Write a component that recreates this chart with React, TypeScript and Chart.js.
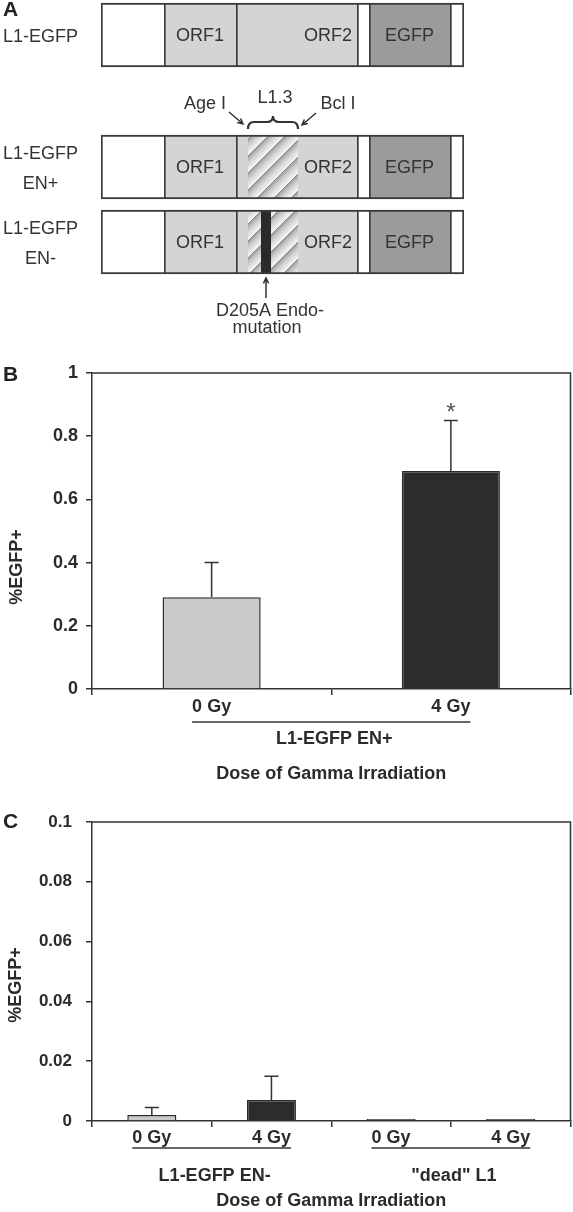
import React, { useEffect, useRef } from 'react';
import { Chart, registerables } from 'chart.js';

Chart.register(...registerables);

const FONT = "'Liberation Sans', Arial, Helvetica, sans-serif";
const INK = '#2b2b2b';
const EDGE = '#3a3a3a';
const ORF_FILL = '#d4d4d4';
const EGFP_FILL = '#9b9b9b';
const MUT_FILL = '#2a2a2a';

// ---------------- Panel A: construct schematics (segment lengths, arbitrary units) ----------------
const topConstructLabels = [['L1-EGFP']];
const topSegmentNames = ["5'", 'ORF1', 'ORF2', 'gap', 'EGFP', "3'"];
const topSegmentKinds = ['white', 'orf', 'orf', 'white', 'egfp', 'white'];
const topSegmentLengths = [63, 72, 121, 12, 81, 14];
const topSegmentText = ['', 'ORF1', 'ORF2', '', 'EGFP', ''];

const enConstructLabels = [['L1-EGFP', 'EN+'], ['L1-EGFP', 'EN-']];
const enSegmentNames = ["5'", 'ORF1', "ORF2 5'", 'L1.3 a', 'D205A', 'L1.3 b', 'ORF2', 'gap', 'EGFP', "3'"];
const enSegmentKinds = ['white', 'orf', 'orf', 'hatch', 'mutation', 'hatch', 'orf', 'white', 'egfp', 'white'];
const enPlusLengths = [63, 72, 12, 50, null, null, 59, 12, 81, 14];
const enMinusLengths = [63, 72, 12, 13, 10, 27, 59, 12, 81, 14];
const enSegmentText = ['', 'ORF1', '', '', '', '', 'ORF2', '', 'EGFP', ''];

// ---------------- Panel B ----------------
const doseLabelsB = ['0 Gy', '4 Gy'];
const egfpValuesB = [0.29, 0.69];
const egfpErrorsB = [0.11, 0.16];
const barColorsB = ['#c9c9c9', '#2c2c2c'];
const groupLabelsB = ['L1-EGFP EN+'];
const groupStartB = [0];
const groupEndB = [1];
const yTicksB = { min: 0, max: 1, step: 0.2 };

// ---------------- Panel C ----------------
const doseLabelsC = ['0 Gy', '4 Gy', '0 Gy', '4 Gy'];
const egfpValuesC = [0.002, 0.007, 0.0007, 0.0007];
const egfpErrorsC = [0.0025, 0.008, 0, 0];
const barColorsC = ['#c9c9c9', '#2c2c2c', '#3a3a3a', '#3a3a3a'];
const groupLabelsC = ['L1-EGFP EN-', '"dead" L1'];
const groupStartC = [0, 2];
const groupEndC = [1, 3];
const yTicksC = { min: 0, max: 0.1, step: 0.02 };

const sum = (a: (number | null)[], n = a.length) => a.slice(0, n).reduce((s: number, v) => s + (v || 0), 0);

function makeHatch(): CanvasPattern {
  const P = 17;
  const c = document.createElement('canvas');
  c.width = P;
  c.height = P;
  const g = c.getContext('2d')!;
  const img = g.createImageData(P, P);
  for (let y = 0; y < P; y++) {
    for (let x = 0; x < P; x++) {
      const t = ((x + y) % P) / P;
      const v = Math.round(135 + 112 * Math.sqrt(t));
      const o = (y * P + x) * 4;
      img.data[o] = v;
      img.data[o + 1] = v;
      img.data[o + 2] = v;
      img.data[o + 3] = 255;
    }
  }
  g.putImageData(img, 0, 0);
  return g.createPattern(c, 'repeat')!;
}

function segmentStyles(kinds: string[], hatch: CanvasPattern) {
  const fills = kinds.map((k) =>
    k === 'orf' ? ORF_FILL : k === 'egfp' ? EGFP_FILL : k === 'mutation' ? MUT_FILL : k === 'hatch' ? hatch : '#ffffff'
  );
  const borders = kinds.map((k, i) => {
    const prev = i > 0 ? kinds[i - 1] : '';
    const noLeft = k === 'hatch' || k === 'mutation' || prev === 'hatch' || prev === 'mutation';
    return { top: 2, bottom: 2, left: noLeft ? 0 : 2, right: i === kinds.length - 1 ? 2 : 0 };
  });
  return { fills, borders };
}

function drawRowLabels(chart: any, labels: string[][]) {
  const { ctx } = chart;
  const ys = chart.scales.y;
  ctx.save();
  ctx.fillStyle = '#333';
  ctx.font = `18px ${FONT}`;
  ctx.textAlign = 'center';
  ctx.textBaseline = 'middle';
  labels.forEach((lines, i) => {
    const yc = ys.getPixelForValue(i) + 2;
    lines.forEach((line, j) => {
      ctx.fillText(line, 40.5, yc + (j - (lines.length - 1) / 2) * 30);
    });
  });
  ctx.restore();
}

function drawSegmentTexts(chart: any, rows: (number | null)[][], texts: string[]) {
  const { ctx } = chart;
  const xs = chart.scales.x;
  const ys = chart.scales.y;
  ctx.save();
  ctx.fillStyle = '#333';
  ctx.font = `18px ${FONT}`;
  ctx.textBaseline = 'middle';
  rows.forEach((lengths, r) => {
    const yc = ys.getPixelForValue(r) + 1;
    texts.forEach((t, i) => {
      if (!t || !lengths[i]) return;
      const x0 = xs.getPixelForValue(sum(lengths, i));
      const x1 = xs.getPixelForValue(sum(lengths, i + 1));
      if (t === 'ORF2') {
        ctx.textAlign = 'right';
        ctx.fillText(t, x1 - 5, yc);
      } else {
        ctx.textAlign = 'center';
        ctx.fillText(t, (x0 + x1) / 2, yc);
      }
    });
  });
  ctx.restore();
}

function arrow(ctx: CanvasRenderingContext2D, x0: number, y0: number, x1: number, y1: number, head = 6) {
  const a = Math.atan2(y1 - y0, x1 - x0);
  ctx.beginPath();
  ctx.moveTo(x0, y0);
  ctx.lineTo(x1, y1);
  ctx.moveTo(x1 - head * Math.cos(a - 0.45), y1 - head * Math.sin(a - 0.45));
  ctx.lineTo(x1, y1);
  ctx.lineTo(x1 - head * Math.cos(a + 0.45), y1 - head * Math.sin(a + 0.45));
  ctx.stroke();
}

function buildA1(canvas: HTMLCanvasElement) {
  const hatch = makeHatch();
  const { fills, borders } = segmentStyles(topSegmentKinds, hatch);
  const extras = {
    id: 'extrasA1',
    afterDraw(chart: any) {
      drawRowLabels(chart, topConstructLabels);
      drawSegmentTexts(chart, [topSegmentLengths], topSegmentText);
      const { ctx } = chart;
      ctx.save();
      ctx.fillStyle = '#222';
      ctx.font = `bold 21px ${FONT}`;
      ctx.textAlign = 'left';
      ctx.textBaseline = 'middle';
      ctx.fillText('A', 3, 10);
      ctx.restore();
    },
  };
  return new Chart(canvas, {
    type: 'bar',
    data: {
      labels: topConstructLabels as any,
      datasets: topSegmentNames.map((name, i) => ({
        label: name,
        data: [topSegmentLengths[i]],
        backgroundColor: fills[i] as any,
        borderColor: EDGE,
        borderWidth: borders[i] as any,
        borderSkipped: false as any,
        barThickness: 64,
      })),
    },
    options: {
      indexAxis: 'y',
      responsive: false,
      animation: false,
      events: [],
      layout: { padding: { left: 101, right: 109, top: 0, bottom: 2 } },
      plugins: { legend: { display: false }, tooltip: { enabled: false } },
      scales: {
        x: { type: 'linear', display: false, stacked: true, min: 0, max: sum(topSegmentLengths) },
        y: { type: 'category', display: false, stacked: true },
      },
    },
    plugins: [extras],
  });
}

function buildA2(canvas: HTMLCanvasElement) {
  const hatch = makeHatch();
  const { fills, borders } = segmentStyles(enSegmentKinds, hatch);
  const extras = {
    id: 'extrasA2',
    afterDraw(chart: any) {
      drawRowLabels(chart, enConstructLabels);
      drawSegmentTexts(chart, [enPlusLengths, enMinusLengths], enSegmentText);
      const { ctx } = chart;
      const xs = chart.scales.x;
      const ys = chart.scales.y;
      const xAge = xs.getPixelForValue(sum(enPlusLengths, 3));
      const xBcl = xs.getPixelForValue(sum(enPlusLengths, 4));
      const xMid = (xAge + xBcl) / 2;
      const rowTop = ys.getPixelForValue(0) - 32;
      const rowBottom = ys.getPixelForValue(1) + 32;
      const xMut = (xs.getPixelForValue(sum(enMinusLengths, 4)) + xs.getPixelForValue(sum(enMinusLengths, 5))) / 2;
      ctx.save();
      ctx.strokeStyle = '#333';
      ctx.lineWidth = 2.2;
      // brace over the L1.3 fragment
      const yb = rowTop - 6, yt = rowTop - 13, yp = rowTop - 19;
      ctx.beginPath();
      ctx.moveTo(xAge, yb);
      ctx.quadraticCurveTo(xAge, yt, xAge + 6, yt);
      ctx.lineTo(xMid - 6, yt);
      ctx.quadraticCurveTo(xMid, yt, xMid, yp);
      ctx.quadraticCurveTo(xMid, yt, xMid + 6, yt);
      ctx.lineTo(xBcl - 6, yt);
      ctx.quadraticCurveTo(xBcl, yt, xBcl, yb);
      ctx.stroke();
      ctx.lineWidth = 1.5;
      arrow(ctx, xAge - 19, rowTop - 23, xAge - 5, rowTop - 11);
      arrow(ctx, xBcl + 18, rowTop - 22, xBcl + 4, rowTop - 10);
      arrow(ctx, xMut, rowBottom + 24, xMut, rowBottom + 4);
      ctx.fillStyle = '#333';
      ctx.font = `18px ${FONT}`;
      ctx.textAlign = 'center';
      ctx.textBaseline = 'middle';
      ctx.fillText('Age I', xAge - 43, rowTop - 31);
      ctx.fillText('L1.3', xMid + 2, rowTop - 37);
      ctx.fillText('Bcl I', xBcl + 40, rowTop - 31);
      ctx.fillText('D205A Endo-', xMut + 4, rowBottom + 37);
      ctx.fillText('mutation', xMut + 1, rowBottom + 54);
      ctx.restore();
    },
  };
  return new Chart(canvas, {
    type: 'bar',
    data: {
      labels: enConstructLabels as any,
      datasets: enSegmentNames.map((name, i) => ({
        label: name,
        data: [enPlusLengths[i], enMinusLengths[i]],
        backgroundColor: fills[i] as any,
        borderColor: EDGE,
        borderWidth: borders[i] as any,
        borderSkipped: false as any,
        barThickness: 64,
      })),
    },
    options: {
      indexAxis: 'y',
      responsive: false,
      animation: false,
      events: [],
      layout: { padding: { left: 101, right: 109, top: 49.5, bottom: 60.5 } },
      plugins: { legend: { display: false }, tooltip: { enabled: false } },
      scales: {
        x: { type: 'linear', display: false, stacked: true, min: 0, max: sum(enMinusLengths) },
        y: { type: 'category', display: false, stacked: true },
      },
    },
    plugins: [extras],
  });
}

interface PanelSpec {
  letter: string;
  letterY: number;
  labels: string[];
  values: number[];
  errors: number[];
  colors: string[];
  groupLabels: string[];
  groupStart: number[];
  groupEnd: number[];
  ticks: { min: number; max: number; step: number };
  tickFont: number;
  tickPad: number;
  padTop: number;
  xAxisHeight: number;
  labelPad: number;
  titlePad: number;
  underlineY: number;
  groupY: number;
  yTitleX: number;
  yTitleY: number;
  star: number[];
}

function buildBarPanel(canvas: HTMLCanvasElement, p: PanelSpec) {
  const extras = {
    id: 'extrasBar',
    afterDatasetsDraw(chart: any) {
      const { ctx, chartArea } = chart;
      const ys = chart.scales.y;
      const meta = chart.getDatasetMeta(0);
      ctx.save();
      // frame (top, right)
      ctx.strokeStyle = '#333';
      ctx.lineWidth = 1.5;
      ctx.beginPath();
      ctx.moveTo(chartArea.left, chartArea.top);
      ctx.lineTo(chartArea.right, chartArea.top);
      ctx.lineTo(chartArea.right, chartArea.bottom);
      ctx.stroke();
      // error bars
      p.values.forEach((v, i) => {
        const e = p.errors[i];
        if (!e) return;
        const x = meta.data[i].x;
        const y0 = ys.getPixelForValue(v);
        const y1 = ys.getPixelForValue(v + e);
        ctx.beginPath();
        ctx.moveTo(x, y0);
        ctx.lineTo(x, y1);
        ctx.moveTo(x - 7, y1);
        ctx.lineTo(x + 7, y1);
        ctx.stroke();
        if (p.star.includes(i)) {
          ctx.fillStyle = '#555';
          ctx.font = `24px ${FONT}`;
          ctx.textAlign = 'center';
          ctx.textBaseline = 'alphabetic';
          ctx.fillText('*', x, y1);
        }
      });
      ctx.restore();
    },
    afterDraw(chart: any) {
      const { ctx } = chart;
      const xs = chart.scales.x;
      ctx.save();
      ctx.fillStyle = INK;
      ctx.strokeStyle = '#333';
      ctx.lineWidth = 1.5;
      ctx.font = `bold 18px ${FONT}`;
      ctx.textBaseline = 'middle';
      ctx.textAlign = 'center';
      p.groupLabels.forEach((g, k) => {
        const a = p.groupStart[k];
        const b = p.groupEnd[k];
        const xa = xs.getPixelForValue(a);
        const xb = xs.getPixelForValue(b);
        const wa = ctx.measureText(p.labels[a]).width;
        const wb = ctx.measureText(p.labels[b]).width;
        ctx.beginPath();
        ctx.moveTo(xa - wa / 2, p.underlineY);
        ctx.lineTo(xb + wb / 2, p.underlineY);
        ctx.stroke();
        ctx.fillText(g, (xa + xb) / 2 + 3, p.groupY);
      });
      // y title
      ctx.save();
      ctx.translate(p.yTitleX, p.yTitleY);
      ctx.rotate(-Math.PI / 2);
      ctx.fillText('%EGFP+', 0, 0);
      ctx.restore();
      // panel letter
      ctx.fillStyle = '#222';
      ctx.font = `bold 21px ${FONT}`;
      ctx.textAlign = 'left';
      ctx.fillText(p.letter, 3, p.letterY);
      ctx.restore();
    },
  };
  const gridCommon = { drawOnChartArea: false, drawTicks: true, tickLength: 6, color: '#333', lineWidth: 1.5 };
  return new Chart(canvas, {
    type: 'bar',
    data: {
      labels: p.labels,
      datasets: [
        {
          data: p.values,
          backgroundColor: p.colors,
          borderColor: '#2b2b2b',
          borderWidth: 1.5,
          barPercentage: 0.41,
          categoryPercentage: 1,
        },
      ],
    },
    options: {
      responsive: false,
      animation: false,
      events: [],
      layout: { padding: { left: 0, right: 2.5, top: p.padTop, bottom: 0 } },
      plugins: { legend: { display: false }, tooltip: { enabled: false } },
      scales: {
        x: {
          grid: { ...gridCommon, offset: true },
          border: { color: '#333', width: 1.5 },
          ticks: { color: INK, font: { size: 18, weight: 'bold' }, padding: p.labelPad, maxRotation: 0, autoSkip: false },
          title: {
            display: true,
            text: 'Dose of Gamma Irradiation',
            color: INK,
            font: { size: 18, weight: 'bold' },
            padding: { top: 0, bottom: p.titlePad },
          },
          afterFit: (s: any) => {
            s.height = p.xAxisHeight;
          },
        },
        y: {
          min: p.ticks.min,
          max: p.ticks.max,
          grid: gridCommon,
          border: { color: '#333', width: 1.5 },
          ticks: {
            stepSize: p.ticks.step,
            color: INK,
            font: { size: p.tickFont, weight: 'bold' },
            padding: p.tickPad,
            callback: (v: any) => String(Number(Number(v).toFixed(4))),
          },
          afterFit: (s: any) => {
            s.width = 92;
          },
        },
      },
    },
    plugins: [extras],
  } as any);
}

function ChartCanvas({ top, height, build }: { top: number; height: number; build: (c: HTMLCanvasElement) => Chart }) {
  const ref = useRef<HTMLCanvasElement>(null);
  useEffect(() => {
    const chart = build(ref.current!);
    return () => chart.destroy();
  }, []);
  return (
    <canvas
      ref={ref}
      width={573}
      height={height}
      style={{ position: 'absolute', left: 0, top, width: 573, height, display: 'block' }}
    />
  );
}

export default function App() {
  Chart.defaults.font.family = FONT;
  Chart.defaults.color = INK;
  const specB: PanelSpec = {
    letter: 'B',
    letterY: 35,
    labels: doseLabelsB,
    values: egfpValuesB,
    errors: egfpErrorsB,
    colors: barColorsB,
    groupLabels: groupLabelsB,
    groupStart: groupStartB,
    groupEnd: groupEndB,
    ticks: yTicksB,
    tickFont: 18,
    tickPad: 8,
    padTop: 33,
    xAxisHeight: 101,
    labelPad: 1,
    titlePad: 5,
    underlineY: 382,
    groupY: 399,
    yTitleX: 17,
    yTitleY: 227,
    star: [1],
  };
  const specC: PanelSpec = {
    letter: 'C',
    letterY: 32,
    labels: doseLabelsC,
    values: egfpValuesC,
    errors: egfpErrorsC,
    colors: barColorsC,
    groupLabels: groupLabelsC,
    groupStart: groupStartC,
    groupEnd: groupEndC,
    ticks: yTicksC,
    tickFont: 17,
    tickPad: 14,
    padTop: 32,
    xAxisHeight: 91,
    labelPad: 0,
    titlePad: 0,
    underlineY: 358,
    groupY: 386,
    yTitleX: 16,
    yTitleY: 195,
    star: [],
  };
  return (
    <div style={{ position: 'absolute', left: 0, top: 0, width: 573, height: 1212, background: '#fff' }}>
      <ChartCanvas top={0} height={72} build={buildA1} />
      <ChartCanvas top={80} height={260} build={buildA2} />
      <ChartCanvas top={340} height={450} build={(c) => buildBarPanel(c, specB)} />
      <ChartCanvas top={790} height={422} build={(c) => buildBarPanel(c, specC)} />
    </div>
  );
}
